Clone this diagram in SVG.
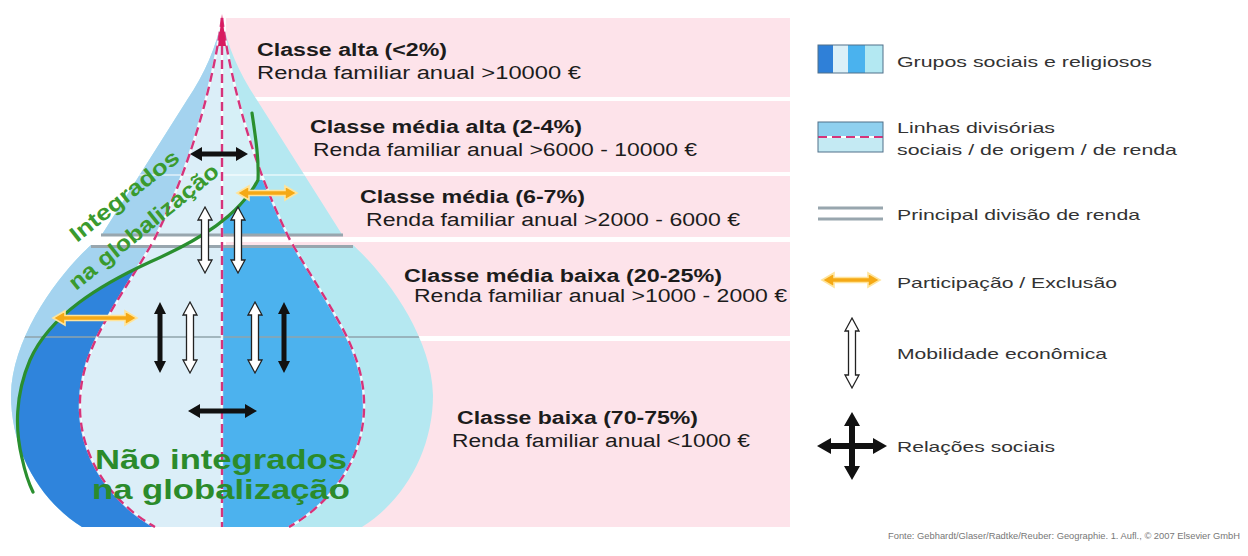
<svg xmlns="http://www.w3.org/2000/svg" width="1248" height="556" viewBox="0 0 1248 556">
<defs>
<style>
.t{font-family:"Liberation Sans",Arial,sans-serif;fill:#1c1c1c}
.b{font-weight:bold;font-size:18px}
.r{font-size:18px}
.lg{font-family:"Liberation Sans",Arial,sans-serif;font-size:15px;fill:#333}
.band{fill:#fde3ea}
.dash{fill:none;stroke:#d6337a;stroke-width:2.4;stroke-dasharray:9 5}
.dashbg{fill:none;stroke:#ffffff;stroke-width:2.4;stroke-opacity:0.85}
.blk{fill:#111}
.wht{fill:#fff;stroke:#222;stroke-width:1.3}
.org{fill:#f5a915;stroke:#ffe49a;stroke-width:1.6}
.grn{fill:none;stroke:#2a8f2f;stroke-width:3.2;stroke-linecap:round}
.gtxt{font-family:"Liberation Sans",Arial,sans-serif;font-weight:bold;fill:#3a9a2e}
.div{stroke:#98a6ae;stroke-width:3}
</style>
<clipPath id="shape">
<path d="M222,18 Q230,60 257,100 L343,236 L101,236 L187,100 Q214,60 222,18 Z"/>
<path d="M91,245 L353,245 C383,272 432,335 433,395 C433,450 405,500 362,527 L82,527 C39,500 11,450 11,395 C12,335 61,272 91,245 Z"/>
</clipPath>
<clipPath id="tdR">
<path d="M222,18 C232,90 255,170 290,240 C330,310 366,350 364,410 C362,470 320,510 289,527 L222,527 Z"/>
</clipPath>
</defs>
<rect x="0" y="0" width="1248" height="556" fill="#ffffff"/>

<g id="bands">
<rect class="band" x="226" y="18" width="564" height="79"/>
<rect class="band" x="226" y="101" width="564" height="71"/>
<rect class="band" x="226" y="176" width="564" height="61"/>
<rect class="band" x="226" y="242" width="564" height="94"/>
<rect class="band" x="226" y="341" width="564" height="186"/>
</g>

<g id="pyramid">
<g clip-path="url(#shape)">
<rect x="0" y="0" width="450" height="540" fill="#b5e8f1"/>
<rect x="0" y="0" width="222" height="540" fill="#a4d3ef"/>
<path d="M150,262 C100,285 50,315 30,360 C15,395 15,430 22,458 C26,478 38,500 60,520 L75,532 L222,532 L222,200 Z" fill="#2f84dc"/>
<path d="M222,18 C212,90 189,170 154,240 C114,310 78,350 80,410 C82,470 124,510 155,527 L222,527 Z" fill="#dbeef8"/>
<path d="M222,18 C232,90 255,170 290,240 C330,310 366,350 364,410 C362,470 320,510 289,527 L222,527 Z" fill="#d6f0f7"/>
<g clip-path="url(#tdR)">
<path d="M258,180 C240,215 200,240 150,262 L150,540 L450,540 L450,180 Z" fill="#4cb2ee"/>
</g>
<line x1="0" y1="175" x2="450" y2="175" stroke="#ffffff" stroke-opacity="0.5" stroke-width="2"/>
<line x1="0" y1="337" x2="450" y2="337" stroke="#8fa3ab" stroke-width="1.3"/>
</g>
<line class="div" x1="101" y1="235" x2="343" y2="235"/>
<line class="div" x1="91" y1="246.5" x2="353" y2="246.5"/>
<path class="dashbg" d="M222,18 C212,90 189,170 154,240 C114,310 78,350 80,410 C82,470 124,510 155,527"/>
<path class="dashbg" d="M222,18 C232,90 255,170 290,240 C330,310 366,350 364,410 C362,470 320,510 289,527"/>
<line class="dashbg" x1="222" y1="18" x2="222" y2="527"/>
<path class="dash" d="M222,18 C212,90 189,170 154,240 C114,310 78,350 80,410 C82,470 124,510 155,527"/>
<path class="dash" d="M222,18 C232,90 255,170 290,240 C330,310 366,350 364,410 C362,470 320,510 289,527"/>
<line class="dash" x1="222" y1="18" x2="222" y2="527"/>
<path d="M222,14 L226,46 L218,46 Z" fill="#d81b60"/>
<path class="grn" d="M252,113 C256,140 259,160 258,180 C240,215 200,240 150,262 C100,285 50,315 30,360 C15,395 15,430 22,458 C25,472 28,482 33,492"/>
</g>

<g id="labels">
<text class="t b" x="257" y="56" textLength="190" lengthAdjust="spacingAndGlyphs">Classe alta (&lt;2%)</text>
<text class="t r" x="257" y="79" textLength="324" lengthAdjust="spacingAndGlyphs">Renda familiar anual &gt;10000 €</text>
<text class="t b" x="310" y="133" textLength="272" lengthAdjust="spacingAndGlyphs">Classe média alta (2-4%)</text>
<text class="t r" x="313" y="156" textLength="384" lengthAdjust="spacingAndGlyphs">Renda familiar anual &gt;6000 - 10000 €</text>
<text class="t b" x="360" y="203" textLength="225" lengthAdjust="spacingAndGlyphs">Classe média (6-7%)</text>
<text class="t r" x="366" y="226" textLength="374" lengthAdjust="spacingAndGlyphs">Renda familiar anual &gt;2000 - 6000 €</text>
<text class="t b" x="404" y="282" textLength="318" lengthAdjust="spacingAndGlyphs">Classe média baixa (20-25%)</text>
<text class="t r" x="414" y="302" textLength="373" lengthAdjust="spacingAndGlyphs">Renda familiar anual &gt;1000 - 2000 €</text>
<text class="t b" x="457" y="424" textLength="241" lengthAdjust="spacingAndGlyphs">Classe baixa (70-75%)</text>
<text class="t r" x="452" y="447" textLength="298" lengthAdjust="spacingAndGlyphs">Renda familiar anual &lt;1000 €</text>
</g>

<g id="group-labels">
<text class="gtxt" font-size="22" transform="translate(77,243) rotate(-38.5)" textLength="133" lengthAdjust="spacingAndGlyphs">Integrados</text>
<text class="gtxt" font-size="22" transform="translate(76,291) rotate(-39)" textLength="186" lengthAdjust="spacingAndGlyphs">na globalização</text>
<text class="gtxt" font-size="28" x="95" y="469" textLength="252" lengthAdjust="spacingAndGlyphs" style="fill:#2b8b2b">Não integrados</text>
<text class="gtxt" font-size="28" x="92" y="499" textLength="258" lengthAdjust="spacingAndGlyphs" style="fill:#2b8b2b">na globalização</text>
</g>

<g id="connectors">
<polygon class="blk" points="190,154 202,147 202,151.5 236,151.5 236,147 248,154 236,161 236,156.5 202,156.5 202,161"/>
<polygon class="blk" points="188,411 200,404 200,408.5 245,408.5 245,404 257,411 245,418 245,413.5 200,413.5 200,418"/>
<polygon class="blk" points="160,302 166,314 162.5,314 162.5,361 166,361 160,373 154,361 157.5,361 157.5,314 154,314"/>
<polygon class="blk" points="284,302 290,314 286.5,314 286.5,361 290,361 284,373 278,361 281.5,361 281.5,314 278,314"/>
<polygon class="wht" points="205,207 212,220 208.5,220 208.5,260 212,260 205,273 198,260 201.5,260 201.5,220 198,220"/>
<polygon class="wht" points="238,207 245,220 241.5,220 241.5,260 245,260 238,273 231,260 234.5,260 234.5,220 231,220"/>
<polygon class="wht" points="190,302 197,315 193.5,315 193.5,360 197,360 190,373 183,360 186.5,360 186.5,315 183,315"/>
<polygon class="wht" points="255,302 262,315 258.5,315 258.5,360 262,360 255,373 248,360 251.5,360 251.5,315 248,315"/>
<polygon class="org" points="237,193 249,186 249,190.5 285,190.5 285,186 297,193 285,200 285,195.5 249,195.5 249,200"/>
<polygon class="org" points="53,318 65,311 65,315.5 125,315.5 125,311 137,318 125,325 125,320.5 65,320.5 65,325"/>
</g>

<g id="legend">
<g id="lg-grupos">
<rect x="818" y="45" width="15" height="28" fill="#2f80d8"/>
<rect x="833" y="45" width="15" height="28" fill="#dcf0f8"/>
<rect x="848" y="45" width="17" height="28" fill="#4ab2ee"/>
<rect x="865" y="45" width="18" height="28" fill="#b3e8f2"/>
<rect x="818" y="45" width="65" height="28" fill="none" stroke="#50708a" stroke-width="1"/>
<text class="lg" x="897" y="67" textLength="255" lengthAdjust="spacingAndGlyphs">Grupos sociais e religiosos</text>
</g>
<g id="lg-linhas">
<rect x="818" y="122" width="65" height="15" fill="#8fd0ef"/>
<rect x="818" y="137" width="65" height="15" fill="#c4eaf3"/>
<line x1="818" y1="137" x2="883" y2="137" stroke="#ffffff" stroke-width="2"/>
<line x1="818" y1="137" x2="883" y2="137" stroke="#d6337a" stroke-width="2" stroke-dasharray="9 5"/>
<rect x="818" y="122" width="65" height="30" fill="none" stroke="#50708a" stroke-width="1"/>
<text class="lg" x="897" y="133" textLength="158" lengthAdjust="spacingAndGlyphs">Linhas divisórias</text>
<text class="lg" x="897" y="155" textLength="280" lengthAdjust="spacingAndGlyphs">sociais / de origem / de renda</text>
</g>
<g id="lg-principal">
<line class="div" x1="818" y1="208" x2="883" y2="208"/>
<line class="div" x1="818" y1="219" x2="883" y2="219"/>
<text class="lg" x="897" y="220" textLength="243" lengthAdjust="spacingAndGlyphs">Principal divisão de renda</text>
</g>
<g id="lg-participacao">
<polygon class="org" points="822,280 834,273 834,277.5 868,277.5 868,273 880,280 868,287 868,282.5 834,282.5 834,287"/>
<text class="lg" x="897" y="288" textLength="220" lengthAdjust="spacingAndGlyphs">Participação / Exclusão</text>
</g>
<g id="lg-mobilidade">
<polygon class="wht" points="852,318 859,331 855.5,331 855.5,375 859,375 852,388 845,375 848.5,375 848.5,331 845,331"/>
<text class="lg" x="897" y="359" textLength="210" lengthAdjust="spacingAndGlyphs">Mobilidade econômica</text>
</g>
<g id="lg-relacoes">
<polygon class="blk" points="817,446 831,438 831,443 849,443 849,426 844,426 852,412 860,426 855,426 855,443 873,443 873,438 887,446 873,454 873,449 855,449 855,466 860,466 852,480 844,466 849,466 849,449 831,449 831,454"/>
<text class="lg" x="897" y="452" textLength="158" lengthAdjust="spacingAndGlyphs">Relações sociais</text>
</g>
</g>

<text id="source" x="888" y="539" font-family="'Liberation Sans',Arial,sans-serif" font-size="8.6" fill="#777" textLength="352" lengthAdjust="spacingAndGlyphs">Fonte: Gebhardt/Glaser/Radtke/Reuber: Geographie. 1. Aufl., © 2007 Elsevier GmbH</text>
</svg>
